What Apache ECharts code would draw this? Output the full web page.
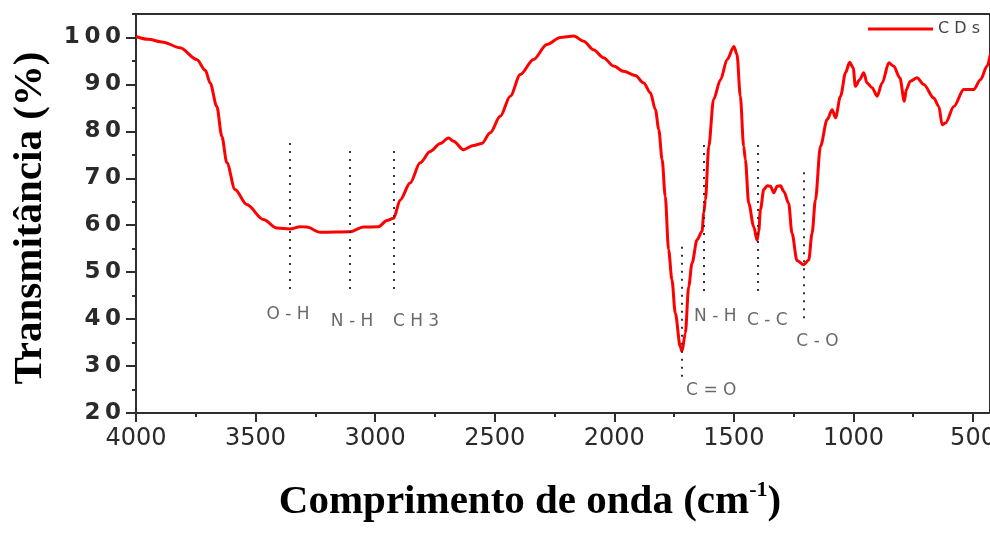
<!DOCTYPE html>
<html><head><meta charset="utf-8">
<script src="https://cdn.jsdelivr.net/npm/echarts@6/dist/echarts.min.js"></script>
<style>html,body{margin:0;padding:0;background:#fff}#chart{width:990px;height:533px}</style>
</head><body><div id="chart"></div>
<script>
// ---- data ----
const wavenumbers = [4000,3950,3886,3816,3746,3710,3690,3662,3641,3620,3586,3537,3467,3411,3356,3314,3286,3230,3105,3049,2986,2951,2923,2895,2854,2812,2770,2728,2693,2672,2631,2589,2554,2519,2477,2435,2393,2338,2282,2226,2170,2128,2087,2045,2003,1961,1912,1877,1849,1828,1814,1800,1787,1773,1759,1745,1724,1717,1703,1689,1675,1654,1633,1626,1619,1605,1585,1556,1528,1500,1487,1473,1459,1452,1438,1417,1403,1396,1389,1375,1361,1347,1333,1319,1305,1291,1271,1257,1236,1208,1187,1173,1159,1138,1110,1089,1075,1054,1033,1016,1001,992,974,957,943,922,901,880,852,832,806,787,779,762,734,706,664,643,629,615,580,539,497,469,441,427];
const transmittance = [100.2,99.6,99.0,97.8,95.3,93.0,90.3,85.3,78.9,73.3,67.6,64.4,61.2,59.4,59.2,59.7,59.6,58.5,58.6,59.6,59.7,61.0,61.5,65.4,69.0,73.3,75.7,77.4,78.6,77.9,76.1,77.0,77.4,79.7,83.2,87.5,92.1,95.3,98.5,100.0,100.3,99.2,97.4,95.7,93.9,92.8,91.9,90.3,88.2,84.6,80.4,74.0,66.2,54.8,48.4,41.3,34.1,33.1,37.0,46.9,51.9,56.9,58.7,62.6,65.4,76.8,86.8,91.0,95.3,98.1,96.4,87.5,76.8,74.0,64.7,59.7,56.8,58.7,63.3,67.6,68.4,68.3,66.9,68.3,68.4,67.2,64.7,58.3,52.5,51.6,52.6,58.3,65.4,76.8,82.5,84.6,82.9,87.5,92.5,94.7,93.5,89.6,91.0,92.5,90.3,89.3,87.5,90.3,94.6,93.9,91.4,86.4,88.9,90.7,91.4,90.0,87.1,85.3,81.4,81.8,85.3,88.9,88.9,91.0,93.9,96.5];
const seriesName = 'CDs';
const xTickLabels = [4000,3500,3000,2500,2000,1500,1000,500];
const xMinorTicks = [3750,3250,2750,2250,1750,1250,750];
const yTickLabels = [20,30,40,50,60,70,80,90,100];
const yMinorTicks = [25,35,45,55,65,75,85,95,105];
const xRange = [429, 4000];
const yRange = [20, 105];
const annotationLabels = ['O - H','N - H','C H 3','C = O','N - H','C - C','C - O'];
const annotationWavenumbers = [3356,3105,2921,1720,1628,1402,1209];
const annotationTop = [77.5,75.8,75.8,55.4,77.1,77.1,71.3];
const annotationBottom = [45.8,45.8,45.8,26.8,45.8,44.9,39.8];
const xTitle = 'Comprimento de onda (cm';
const xTitleSup = '-1';
const yTitle = 'Transmitância (%)';

// ---- styling / layout ----
const labelOffsets = [[-2,23],[2,30],[22,30],[30,9],[12,25],[10,24],[14,22]];
const axisColor = '#2e2e2e';
const spaced = v => String(v).split('').join('\u2009');
const gridBox = {left:136, right:0, top:14, bottom:120, containLabel:false, outerBoundsMode:'none'};

const chart = echarts.init(document.getElementById('chart'), null, {renderer:'canvas'});
const option = {
  animation: false,
  backgroundColor: '#fff',
  grid: [
    Object.assign({show:true, borderColor:axisColor, borderWidth:2}, gridBox),
    Object.assign({show:false}, gridBox)
  ],
  legend: {
    data:[seriesName], left:868, top:21, padding:0, selectedMode:false,
    icon:'rect', itemWidth:65, itemHeight:3,
    formatter: n => n.split('').join(' '),
    textStyle:{fontFamily:'DejaVu Sans', fontSize:16, color:'#444'}
  },
  xAxis: [{
    gridIndex:0, type:'value', inverse:true, min:xRange[0], max:xRange[1],
    axisLine:{show:true, onZero:false, lineStyle:{color:axisColor, width:2}},
    axisTick:{show:true, inside:false, length:9, customValues:xTickLabels, lineStyle:{color:axisColor, width:2}},
    splitLine:{show:false},
    axisLabel:{margin:14, color:'#2a2a2a', fontFamily:'DejaVu Sans', fontSize:24,
      customValues:xTickLabels, formatter: v => String(v), hideOverlap:false}
  },{
    gridIndex:1, type:'value', inverse:true, min:xRange[0], max:xRange[1], position:'bottom',
    axisLine:{show:false},
    axisTick:{show:true, inside:false, length:4, customValues:xMinorTicks, lineStyle:{color:axisColor, width:2}},
    axisLabel:{show:false}, splitLine:{show:false}
  }],
  yAxis: [{
    gridIndex:0, type:'value', min:yRange[0], max:yRange[1],
    axisLine:{show:true, onZero:false, lineStyle:{color:axisColor, width:2}},
    axisTick:{show:true, inside:false, length:10, customValues:yTickLabels, lineStyle:{color:axisColor, width:2}},
    splitLine:{show:false},
    axisLabel:{margin:15, color:'#2a2a2a', fontFamily:'DejaVu Sans', fontWeight:'bold', fontSize:23,
      customValues:yTickLabels, formatter: v => spaced(v)}
  },{
    gridIndex:1, type:'value', min:yRange[0], max:yRange[1], position:'left',
    axisLine:{show:false},
    axisTick:{show:true, inside:false, length:4, customValues:yMinorTicks, lineStyle:{color:axisColor, width:2}},
    axisLabel:{show:false}, splitLine:{show:false}
  }],
  series: [{
    name: seriesName, type:'line', xAxisIndex:0, yAxisIndex:0,
    data: wavenumbers.map((w,i)=>[w, transmittance[i]]),
    showSymbol:false, symbol:'none', smooth:0.3, smoothMonotone:'x',
    lineStyle:{color:'#ff0000', width:3}, itemStyle:{color:'#ff0000'}, z:3
  },{
    name:'annotations', type:'scatter', xAxisIndex:0, yAxisIndex:0,
    symbolSize:0, silent:true,
    data: annotationLabels.map((l,i)=>({value:[annotationWavenumbers[i], annotationBottom[i]], name:l,
      label:{offset:labelOffsets[i]}})),
    label:{show:true, position:'inside', formatter:'{b}', color:'#444', fontFamily:'DejaVu Sans', fontSize:17},
    markLine:{
      silent:true, symbol:['none','none'], label:{show:false},
      lineStyle:{type:[2,6], color:'#333', width:2},
      data: annotationLabels.map((l,i)=>[{coord:[annotationWavenumbers[i], annotationTop[i]]},{coord:[annotationWavenumbers[i], annotationBottom[i]]}])
    }, z:2
  }],
  graphic: [{
    type:'text', x:530, y:502, silent:true,
    style:{text:'{t|'+xTitle+'}{s|'+xTitleSup+'}{t|)}', align:'center', verticalAlign:'middle',
      rich:{t:{fontFamily:'Liberation Serif', fontWeight:'bold', fontSize:41, fill:'#000', lineHeight:46},
            s:{fontFamily:'Liberation Serif', fontWeight:'bold', fontSize:22, fill:'#000', verticalAlign:'top'}}}
  },{
    type:'text', x:30, y:218, rotation:Math.PI/2, silent:true,
    style:{text:yTitle, align:'center', verticalAlign:'middle',
      fontFamily:'Liberation Serif', fontWeight:'bold', fontSize:41, fill:'#000'}
  }]
};
chart.setOption(option);
</script>
</body></html>
